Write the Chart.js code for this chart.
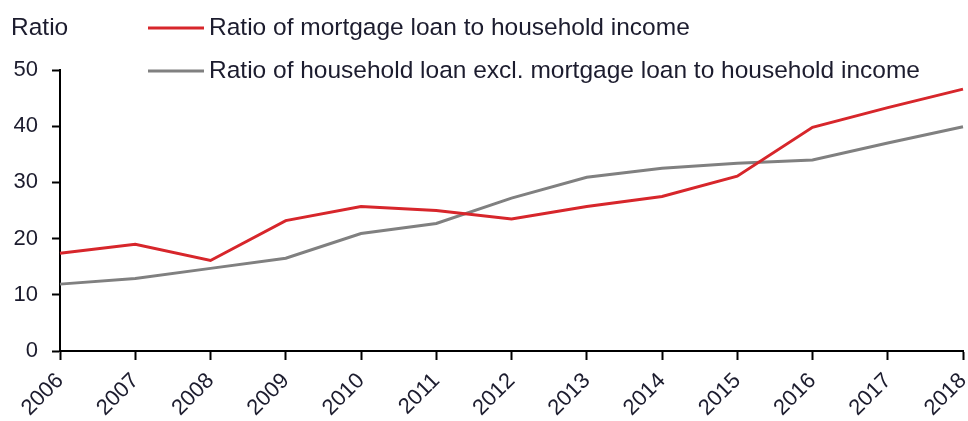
<!DOCTYPE html>
<html>
<head>
<meta charset="utf-8">
<script src="https://cdn.jsdelivr.net/npm/chart.js@4"></script>
<style>
  html, body { margin: 0; padding: 0; background: #fff; }
  #wrap { width: 968px; height: 421px; }
</style>
</head>
<body>
<div id="wrap"><canvas id="chart" width="968" height="421"></canvas></div>
<script>
const years = ['2006', '2007', '2008', '2009', '2010', '2011', '2012',
               '2013', '2014', '2015', '2016', '2017', '2018'];
const mortgageRatio = [17.4, 19.0, 16.1, 23.2, 25.7, 25.0, 23.5,
                       25.7, 27.5, 31.1, 39.8, 43.3, 46.6];
const otherLoanRatio = [11.9, 12.9, 14.7, 16.5, 20.9, 22.7, 27.2,
                        30.9, 32.5, 33.4, 34.0, 37.0, 39.9];
const yTicks = [0, 10, 20, 30, 40, 50];

const FONT = '"Liberation Sans", Arial, sans-serif';
const TEXT = '#1c1c2e';

// legend + "Ratio" label drawn by hand, the built-in legend can't do this layout
const legendPlugin = {
    id: 'sideLegend',
    afterDraw(chart) {
        const ctx = chart.ctx;
        ctx.save();
        ctx.font = '24.5px ' + FONT;
        ctx.fillStyle = TEXT;
        ctx.textBaseline = 'middle';
        ctx.textAlign = 'left';
        ctx.fillText('Ratio', 11, 28);

        const rows = [28, 71];
        chart.data.datasets.forEach((ds, i) => {
            const y = rows[i];
            ctx.strokeStyle = ds.borderColor;
            ctx.lineWidth = 3;
            ctx.beginPath();
            ctx.moveTo(148, y);
            ctx.lineTo(204, y);
            ctx.stroke();
            ctx.fillText(ds.label, 209, y);
        });
        ctx.restore();
    }
};

new Chart(document.getElementById('chart'), {
    type: 'line',
    data: {
        labels: years,
        datasets: [
            {
                label: 'Ratio of mortgage loan to household income',
                data: mortgageRatio,
                borderColor: '#d7262b',
                borderWidth: 3,
                pointRadius: 0,
                tension: 0,
            },
            {
                label: 'Ratio of household loan excl. mortgage loan to household income',
                data: otherLoanRatio,
                borderColor: '#808080',
                borderWidth: 3,
                pointRadius: 0,
                tension: 0,
            }
        ]
    },
    options: {
        responsive: false,
        animation: false,
        layout: { padding: { top: 70, right: 5, bottom: 0, left: 0 } },
        plugins: {
            legend: { display: false },
            tooltip: { enabled: false },
        },
        scales: {
            x: {
                offset: false,
                border: { display: true, color: '#000', width: 2 },
                grid: { drawOnChartArea: false, drawTicks: true, tickLength: 9, tickColor: '#000', tickWidth: 2 },
                ticks: {
                    autoSkip: false,
                    minRotation: 45,
                    maxRotation: 45,
                    padding: 8,
                    color: TEXT,
                    font: { family: FONT, size: 22 },
                },
                afterFit(scale) {
                    scale.height = 70;
                    scale.paddingRight = 0;
                    scale.paddingLeft = 0;
                }
            },
            y: {
                min: 0,
                max: 50,
                afterBuildTicks(scale) {
                    scale.ticks = yTicks.map(v => ({ value: v }));
                },
                border: { display: true, color: '#000', width: 2 },
                grid: { drawOnChartArea: false, drawTicks: true, tickLength: 8, tickColor: '#000', tickWidth: 2 },
                ticks: {
                    padding: 14,
                    color: TEXT,
                    font: { family: FONT, size: 22 },
                },
                afterFit(scale) {
                    scale.width = 60;
                }
            }
        }
    },
    plugins: [legendPlugin]
});
</script>
</body>
</html>
